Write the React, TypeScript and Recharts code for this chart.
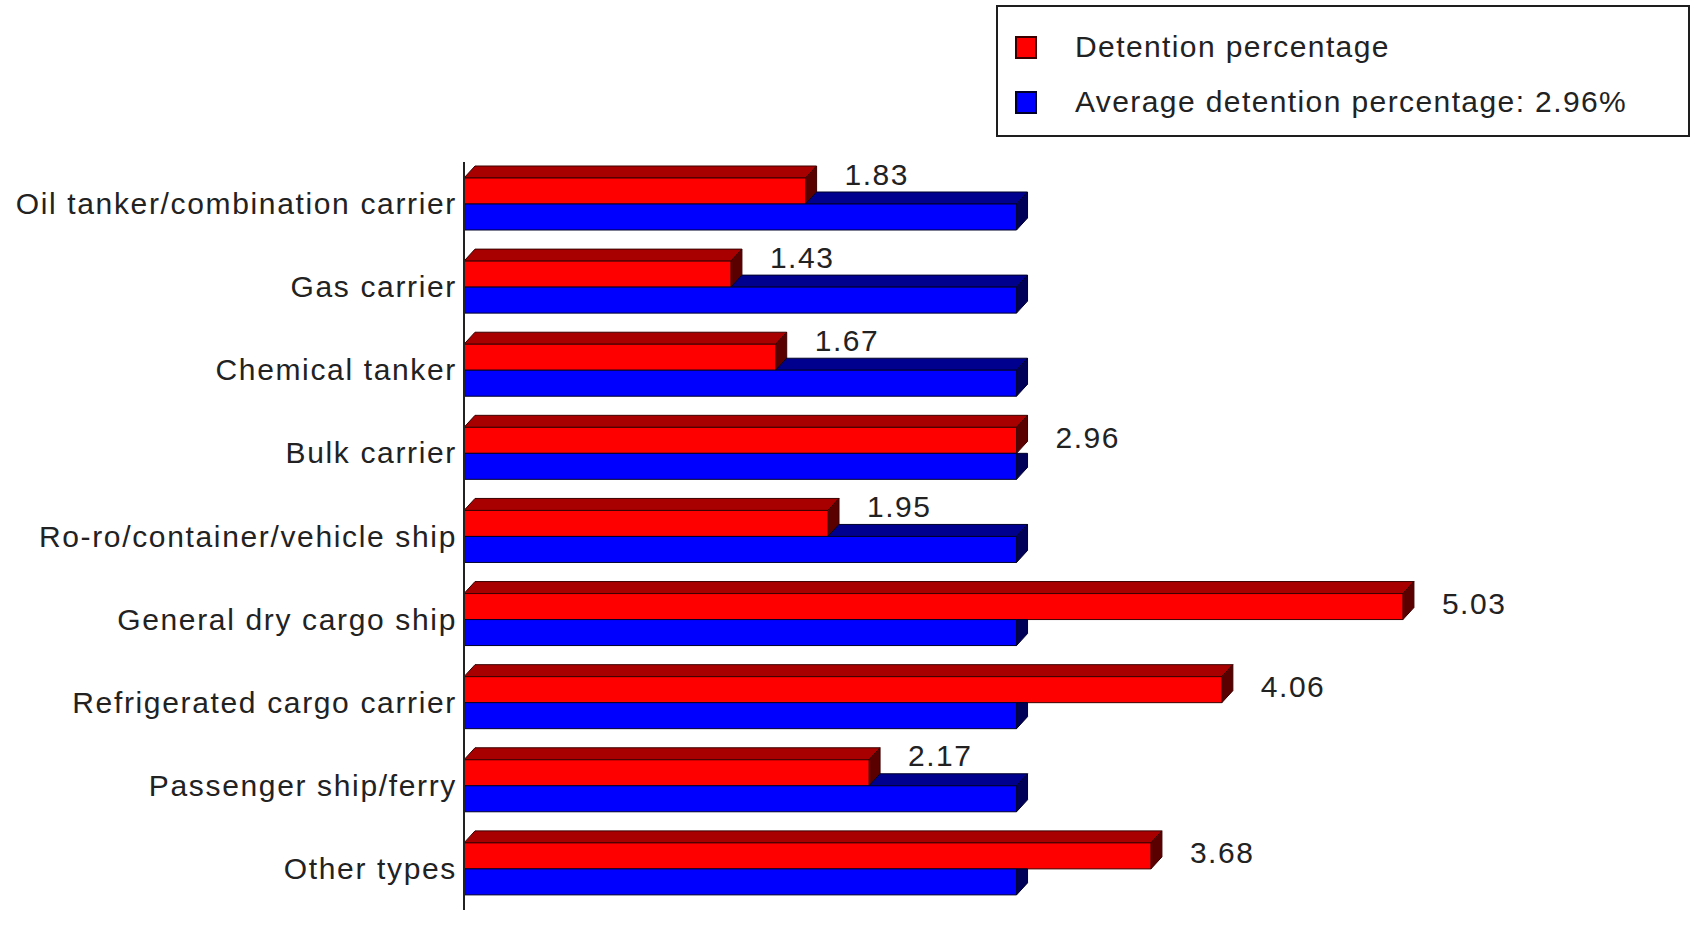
import { BarChart, Bar, XAxis, YAxis, Legend, LabelList } from 'recharts'

const CATEGORIES = [
  'Oil tanker/combination carrier',
  'Gas carrier',
  'Chemical tanker',
  'Bulk carrier',
  'Ro-ro/container/vehicle ship',
  'General dry cargo ship',
  'Refrigerated cargo carrier',
  'Passenger ship/ferry',
  'Other types',
]
const DETENTION = [1.83, 1.43, 1.67, 2.96, 1.95, 5.03, 4.06, 2.17, 3.68]
const AVERAGE = [2.96, 2.96, 2.96, 2.96, 2.96, 2.96, 2.96, 2.96, 2.96]
const SERIES_NAMES = ['Detention percentage', 'Average detention percentage: 2.96%']

const data = CATEGORIES.map((type, i) => ({
  type,
  detention: DETENTION[i],
  average: AVERAGE[i],
}))

const FONT = '"Liberation Sans", Arial, sans-serif'
const TEXT = '#222'
// depth of the fake 3d extrusion
const DX = 11
const DY = 12

const RED = { front: '#ff0000', top: '#a80000', side: '#5a0000', line: '#3a0000' }
const BLUE = { front: '#0000ff', top: '#00008e', side: '#000058', line: '#00002a' }

function RedBar(props: any) {
  const { x, y, width: w, height: h } = props
  return (
    <g stroke={RED.line} strokeWidth={1} strokeLinejoin="round">
      <polygon points={`${x},${y} ${x + w},${y} ${x + w + DX},${y - DY} ${x + DX},${y - DY}`} fill={RED.top} />
      <polygon
        points={`${x + w},${y} ${x + w + DX},${y - DY} ${x + w + DX},${y + h - DY} ${x + w},${y + h}`}
        fill={RED.side}
      />
      <rect x={x} y={y} width={w} height={h} fill={RED.front} />
    </g>
  )
}

// blue sits behind the red bar, so only the part of its top not hidden by red is drawn
function BlueBar(props: any) {
  const { x, y, width: w, height: h, payload } = props
  const wr = (w * payload.detention) / payload.average
  const hidden = wr >= w
  return (
    <g stroke={BLUE.line} strokeWidth={1} strokeLinejoin="round">
      {!hidden && (
        <polygon
          points={`${x + wr},${y} ${x + w},${y} ${x + w + DX},${y - DY} ${x + wr + DX},${y - DY}`}
          fill={BLUE.top}
        />
      )}
      {hidden ? (
        <polygon
          points={`${x + w},${y} ${x + w + DX},${y} ${x + w + DX},${y + h - DY} ${x + w},${y + h}`}
          fill={BLUE.side}
        />
      ) : (
        <polygon
          points={`${x + w},${y} ${x + w + DX},${y - DY} ${x + w + DX},${y + h - DY} ${x + w},${y + h}`}
          fill={BLUE.side}
        />
      )}
      <rect x={x} y={y} width={w} height={h} fill={BLUE.front} />
    </g>
  )
}

function ValueLabel(props: any) {
  const { x, y, width, height, value, index } = props
  const belowAvg = value < AVERAGE[index]
  const cy = belowAvg ? y - 4 : y + height / 2 - 3
  return (
    <text
      x={x + width + DX + 28}
      y={cy}
      dominantBaseline="central"
      fontFamily={FONT}
      fontSize={30}
      letterSpacing={1.5}
      fill={TEXT}
    >
      {Number(value).toFixed(2)}
    </text>
  )
}

function CategoryTick(props: any) {
  const { x, y, payload } = props
  return (
    <text
      x={x}
      y={y}
      textAnchor="end"
      dominantBaseline="central"
      fontFamily={FONT}
      fontSize={30}
      letterSpacing={1.65}
      fill={TEXT}
    >
      {payload.value}
    </text>
  )
}

function LegendBox({ payload }: { payload?: any[] }) {
  const items = [...(payload ?? [])].sort(
    (a, b) => SERIES_NAMES.indexOf(a.value) - SERIES_NAMES.indexOf(b.value)
  )
  return (
    <div
      style={{
        width: 694,
        height: 132,
        boxSizing: 'border-box',
        border: '2px solid #1e1e1e',
        position: 'relative',
        background: '#fff',
        fontFamily: FONT,
        fontSize: 30,
        letterSpacing: 1.4,
        color: TEXT,
      }}
    >
      {items.map((item, i) => (
        <div
          key={item.value}
          style={{
            position: 'absolute',
            left: 17,
            top: 22 + i * 55,
            height: 36,
            display: 'flex',
            alignItems: 'center',
            whiteSpace: 'nowrap',
          }}
        >
          <span
            style={{
              display: 'inline-block',
              width: 22,
              height: 23,
              boxSizing: 'border-box',
              background: item.color,
              border: `2px solid ${i === 0 ? RED.line : BLUE.line}`,
              marginRight: 38,
            }}
          />
          <span>{item.value}</span>
        </div>
      ))}
    </div>
  )
}

export default function App() {
  return (
    <div style={{ position: 'absolute', left: 0, top: 0, background: '#fff' }}>
      <BarChart
        width={1698}
        height={945}
        data={data}
        layout="vertical"
        margin={{ top: 162, right: 114, bottom: 35, left: 0 }}
        barGap={0}
      >
        <XAxis type="number" domain={[0, 6]} hide />
        <YAxis
          type="category"
          dataKey="type"
          width={464}
          interval={0}
          axisLine={{ stroke: '#222', strokeWidth: 2 }}
          tickLine={false}
          tickSize={4}
          tickMargin={3}
          tick={<CategoryTick />}
        />
        <Legend
          layout="vertical"
          align="center"
          verticalAlign="middle"
          wrapperStyle={{ left: 996, top: 5, width: 694, height: 132 }}
          content={(p: any) => <LegendBox payload={p.payload} />}
        />
        <Bar
          dataKey="detention"
          name={SERIES_NAMES[0]}
          fill={RED.front}
          barSize={26}
          shape={<RedBar />}
          isAnimationActive={false}
        >
          <LabelList dataKey="detention" content={<ValueLabel />} />
        </Bar>
        <Bar
          dataKey="average"
          name={SERIES_NAMES[1]}
          fill={BLUE.front}
          barSize={26}
          shape={<BlueBar />}
          isAnimationActive={false}
        />
      </BarChart>
    </div>
  )
}
